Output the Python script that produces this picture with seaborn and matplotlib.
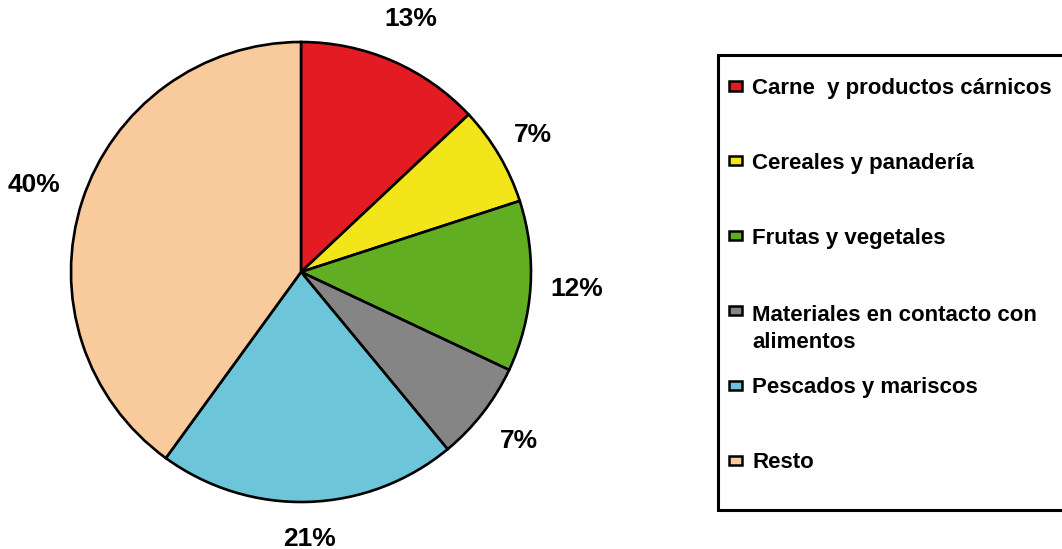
import numpy as np
import matplotlib
matplotlib.use("Agg")
import matplotlib.pyplot as plt
import matplotlib.patches as mpatches
import seaborn as sns

# ── Data ─────────────────────────────────────────────────
categories = [
    "Carne  y productos cárnicos",
    "Cereales y panadería",
    "Frutas y vegetales",
    "Materiales en contacto con\nalimentos",
    "Pescados y mariscos",
    "Resto",
]
shares = [13, 7, 12, 7, 21, 40]
colors = ["#E31B23", "#F2E51A", "#62AE23", "#858585", "#6CC5D8", "#F9CB9C"]

# ── Style ─────────────────────────────────────────────────
sns.set_theme(style="white")
plt.rcParams["font.family"] = ["Liberation Sans", "DejaVu Sans"]
palette = sns.color_palette(colors)

W, H = 1062, 549
fig = plt.figure(figsize=(W / 100, H / 100), dpi=100)
fig.patch.set_facecolor("white")

# pie: centre (301, 272) px, radius 230 px
cx, cy, r = 301, 272, 230
ax = fig.add_axes([(cx - r) / W, (H - cy - r) / H, 2 * r / W, 2 * r / H])
wedges, texts = ax.pie(
    shares, colors=palette, startangle=90, counterclock=False,
    labels=[f"{v}%" for v in shares], labeldistance=1.2,
    wedgeprops={"edgecolor": "black", "linewidth": 1.9},
    textprops={"fontsize": 19, "fontweight": "bold", "color": "black"},
)
# radial distance of each percentage label
label_dist = [1.2, 1.17, 1.2, 1.2, 1.16, 1.22]
for w, t, d in zip(wedges, texts, label_dist):
    ang = np.deg2rad((w.theta1 + w.theta2) / 2)
    t.set_position((d * np.cos(ang), d * np.sin(ang)))
    t.set_horizontalalignment("center")
    t.set_verticalalignment("center")
ax.set_xlim(-1, 1)
ax.set_ylim(-1, 1)
ax.set_aspect("equal")
ax.axis("off")

# ── Legend box (manual, right side, cut by the figure edge) ──
box_left, box_top, box_bottom = 718, 55, 510
fig.patches.append(mpatches.Rectangle(
    (box_left / W, 1 - box_bottom / H), (W + 40 - box_left) / W,
    (box_bottom - box_top) / H, transform=fig.transFigure,
    facecolor="white", edgecolor="black", linewidth=2.2, zorder=0))

row0, step, line_gap = 86, 74.8, 26
for i, (lab, col) in enumerate(zip(categories, palette)):
    y = row0 + i * step
    fig.patches.append(mpatches.Rectangle(
        (729 / W, 1 - (y + 4.5) / H), 13 / W, 9 / H,
        transform=fig.transFigure, facecolor=col, edgecolor="black",
        linewidth=1.8, zorder=2))
    # keep the first line of a wrapped label level with its swatch
    shift = lab.count("\n") * line_gap / 2
    fig.text(752 / W, 1 - (y + shift) / H, lab, fontsize=16, fontweight="bold",
             ha="left", va="center_baseline", linespacing=1.35, color="black")

fig.savefig("out.png", dpi=100)
plt.close(fig)
